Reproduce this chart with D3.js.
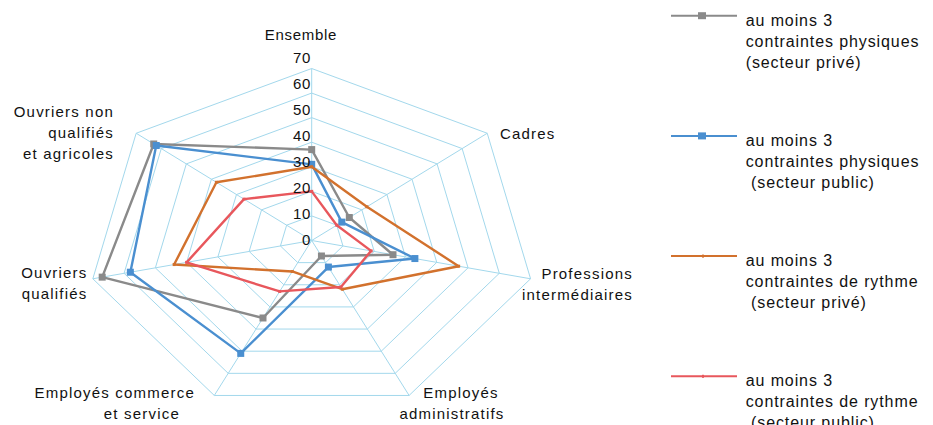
<!DOCTYPE html>
<html>
<head>
<meta charset="utf-8">
<script src="https://cdn.jsdelivr.net/npm/d3@7"></script>
<style>
  html, body { margin: 0; padding: 0; background: #ffffff; }
  svg { display: block; }
  text { font-family: "Liberation Sans", Arial, sans-serif; fill: #111; }
</style>
</head>
<body>
<svg id="chart" width="933" height="425"></svg>
<script>
// Share of employees exposed to at least 3 constraints, by occupational category (%)
const categories = [
  ["Ensemble"],
  ["Cadres"],
  ["Professions", "intermédiaires"],
  ["Employés", "administratifs"],
  ["Employés commerce", "et service"],
  ["Ouvriers", "qualifiés"],
  ["Ouvriers non", "qualifiés", "et agricoles"]
];
const physiquesPrive  = [37, 15, 26, 7, 35, 67, 63];
const physiquesPublic = [31, 12, 33, 12, 51, 58, 62];
const rythmePrive     = [30, 22, 47, 22, 14, 44, 38];
const rythmePublic    = [20, 10, 19, 21, 23, 40, 27];
const tickValues = [0, 10, 20, 30, 40, 50, 60, 70];
const seriesNames = [
  ["au moins 3", "contraintes physiques", "(secteur privé)"],
  ["au moins 3", "contraintes physiques", " (secteur public)"],
  ["au moins 3", "contraintes de rythme", " (secteur privé)"],
  ["au moins 3", "contraintes de rythme", " (secteur public)"]
];

const series = [
  { values: physiquesPrive,  color: "#8a8a8a", marker: 7 },
  { values: physiquesPublic, color: "#4a8fd0", marker: 7 },
  { values: rythmePrive,     color: "#d2712d", marker: 0 },
  { values: rythmePublic,    color: "#e8575c", marker: 0 }
];

const svg = d3.select("#chart");
const cx = 311.7, cy = 240.5;
const maxV = 70;
// the plot area is wider than tall, so the radial scale differs per direction
const rX = d3.scaleLinear().domain([0, maxV]).range([0, 224.5]);
const rY = d3.scaleLinear().domain([0, maxV]).range([0, 172]);
const angle = d3.scaleLinear().domain([0, categories.length]).range([0, 2 * Math.PI]);

function pt(i, v) {
  const a = angle(i);
  return [cx + Math.sin(a) * rX(v), cy - Math.cos(a) * rY(v)];
}

const gridColor = "#a3d8ec";
const g = svg.append("g");

// concentric heptagons
tickValues.filter(t => t > 0).forEach(t => {
  g.append("path")
    .attr("d", d3.line()(categories.map((c, i) => pt(i, t))) + "Z")
    .attr("fill", "none")
    .attr("stroke", gridColor)
    .attr("stroke-width", 1);
});
// spokes
categories.forEach((c, i) => {
  const [x, y] = pt(i, maxV);
  g.append("line")
    .attr("x1", cx).attr("y1", cy).attr("x2", x).attr("y2", y)
    .attr("stroke", gridColor).attr("stroke-width", 1);
});

// series lines and markers
const line = d3.line();
series.forEach(s => {
  const pts = s.values.map((v, i) => pt(i, v));
  svg.append("path")
    .attr("d", line(pts) + "Z")
    .attr("fill", "none")
    .attr("stroke", s.color)
    .attr("stroke-width", 2.4)
    .attr("stroke-linejoin", "round");
  if (s.marker > 0) {
    svg.selectAll(null).data(pts).enter().append("rect")
      .attr("x", d => d[0] - s.marker / 2)
      .attr("y", d => d[1] - s.marker / 2)
      .attr("width", s.marker).attr("height", s.marker)
      .attr("fill", s.color);
  } else {
    svg.selectAll(null).data(pts).enter().append("rect")
      .attr("x", d => d[0] - 1.5).attr("y", d => d[1] - 1.5)
      .attr("width", 3).attr("height", 3)
      .attr("fill", s.color);
  }
});

// radial tick labels
const tickY = d3.scaleLinear().domain([0, maxV]).range([239.3, 57.3]);
svg.selectAll(null).data(tickValues).enter().append("text")
  .attr("x", 311)
  .attr("y", d => tickY(d))
  .attr("dy", "0.36em")
  .attr("text-anchor", "end")
  .style("font-size", "15px")
  .style("letter-spacing", "0.6px")
  .text(d => d);

// category labels
const labelPos = [
  { x: 301, y: 35, anchor: "middle" },
  { x: 500, y: 134, anchor: "start" },
  { x: 633, y: 274, anchor: "end" },
  { x: 461, y: 393, anchor: "middle", x2: 452 },
  { x: 195, y: 393, anchor: "end", x2: 180 },
  { x: 87.5, y: 272.5, anchor: "end" },
  { x: 114, y: 112, anchor: "end" }
];
categories.forEach((lines, i) => {
  const p = labelPos[i];
  const t = svg.append("text")
    .attr("text-anchor", p.anchor)
    .style("font-size", "15px")
    .style("letter-spacing", i === 0 ? "0.7px" : "1.2px");
  lines.forEach((ln, k) => {
    t.append("tspan")
      .attr("x", k > 0 && p.x2 !== undefined ? p.x2 : p.x)
      .attr("y", p.y + k * 20.8)
      .attr("dy", "0.36em")
      .text(ln);
  });
});

// legend
const legend = svg.append("g");
series.forEach((s, i) => {
  const y0 = 15.7 + i * 120.2;
  legend.append("line")
    .attr("x1", 671).attr("x2", 737).attr("y1", y0).attr("y2", y0)
    .attr("stroke", s.color).attr("stroke-width", 2);
  if (s.marker > 0) {
    legend.append("rect")
      .attr("x", 698).attr("y", y0 - 3.5).attr("width", 8).attr("height", 7)
      .attr("fill", s.color);
  } else {
    legend.append("rect")
      .attr("x", 702).attr("y", y0 - 1.5).attr("width", 2).attr("height", 3)
      .attr("fill", s.color);
  }
  const t = legend.append("text")
    .style("font-size", "16px")
    .style("letter-spacing", "0.9px")
    .attr("xml:space", "preserve");
  seriesNames[i].forEach((ln, k) => {
    t.append("tspan")
      .attr("x", 745.7)
      .attr("y", y0 + 4.3 + k * 20.9)
      .attr("dy", "0.36em")
      .style("white-space", "pre")
      .text(ln);
  });
});
</script>
</body>
</html>
